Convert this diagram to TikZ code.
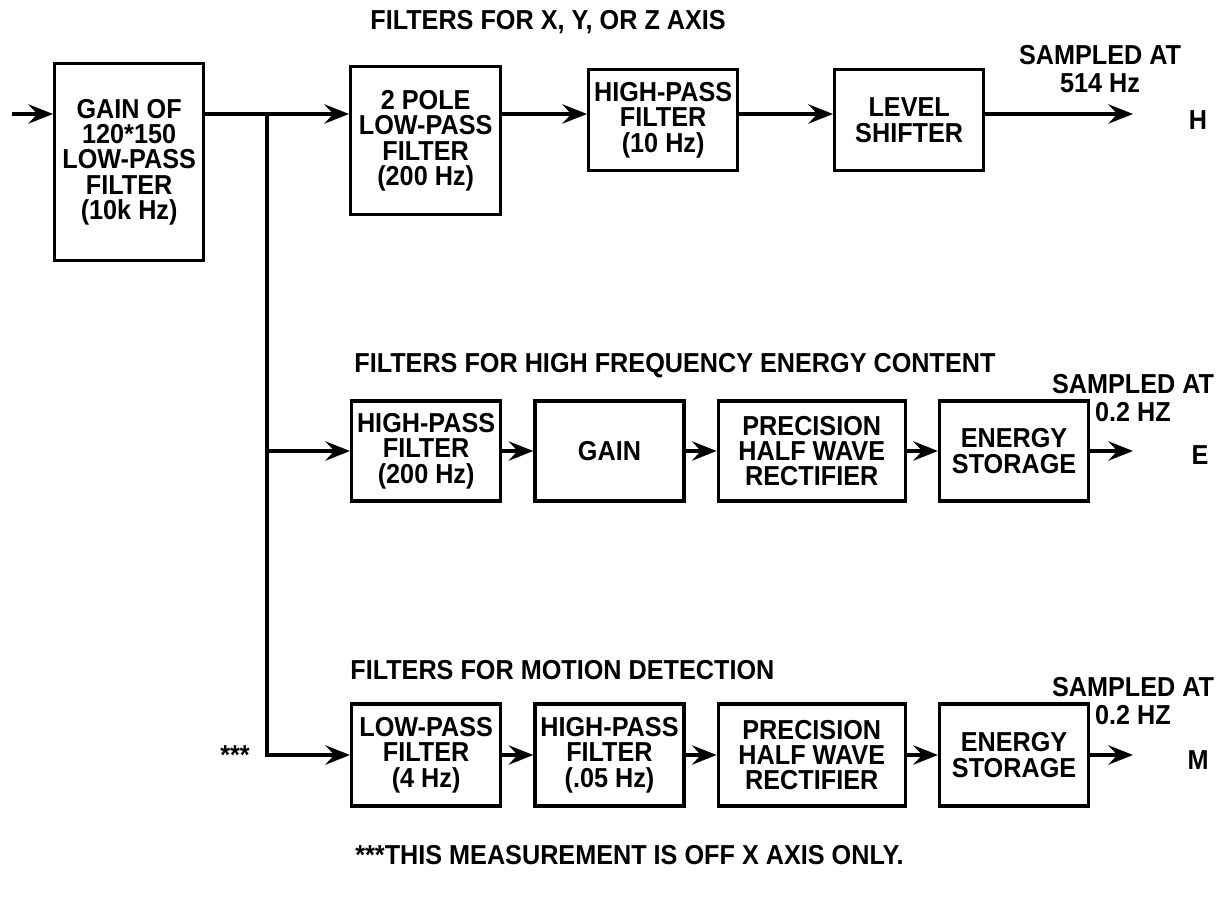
\documentclass[tikz,border=0pt]{standalone}
\usepackage{fontspec}
\setmainfont{Liberation Sans}[FakeStretch=0.92]
\usetikzlibrary{positioning, arrows.meta}

\tikzset{
  blk/.style={draw, line width=1.9pt, minimum width=2.98cm, minimum height=2cm, align=center, inner sep=1pt},
  wire/.style={line width=1.9pt},
  smp/.style={align=center, font=\bfseries\fontsize{15.6}{16}\selectfont},
  ttl/.style={anchor=west, inner sep=0pt},
}

\begin{document}
\begin{tikzpicture}[x=0.02cm, y=-0.02cm, >={Stealth[length=14pt,width=11pt,inset=5pt]}, node distance=0.62cm,
    every node/.style={font=\bfseries\fontsize{15.6}{14.4}\selectfont}]
  \useasboundingbox (0,0) rectangle (1223,915);
  % titles
  \node[ttl] (ttla) at (370,22) {FILTERS FOR X, Y, OR Z AXIS};
  \node[ttl] (ttlb) at (354,366) {FILTERS FOR HIGH FREQUENCY ENERGY CONTENT};
  \node[ttl] (ttlc) at (350,670) {FILTERS FOR MOTION DETECTION};
  \node[ttl] (note) at (355,855) {***THIS MEASUREMENT IS OFF X AXIS ONLY.};
  % axis filters
  \node[blk, minimum height=3.94cm, anchor=north west] (gain) at (53,62) {GAIN OF\\120*150\\LOW-PASS\\FILTER\\(10k Hz)};
  \node[blk, minimum width=3cm, minimum height=2.96cm, anchor=north west] (pole) at (349,65) {2 POLE\\LOW-PASS\\FILTER\\(200 Hz)};
  \node[blk, minimum height=2.02cm, anchor=north west] (hpten) at (587,68) {HIGH-PASS\\FILTER\\(10 Hz)};
  \node[blk, minimum height=2.02cm, anchor=north west] (shift) at (833,68) {LEVEL\\SHIFTER};
  % energy content
  \node[blk, anchor=west] (hpa) at (350,451) {HIGH-PASS\\FILTER\\(200 Hz)};
  \node[blk, right=of hpa] (gaina) {GAIN};
  \node[blk, minimum width=3.74cm, right=of gaina] (preca) {PRECISION\\HALF WAVE\\RECTIFIER};
  \node[blk, right=of preca] (storea) {ENERGY\\STORAGE};
  % motion detection
  \node[blk, minimum height=2.04cm, anchor=west] (lpb) at (350,755) {LOW-PASS\\FILTER\\(4 Hz)};
  \node[blk, minimum height=2.04cm, right=of lpb] (hpb) {HIGH-PASS\\FILTER\\(.05 Hz)};
  \node[blk, minimum height=2.04cm, minimum width=3.74cm, right=of hpb] (precb) {PRECISION\\HALF WAVE\\RECTIFIER};
  \node[blk, minimum height=2.04cm, right=of precb] (storeb) {ENERGY\\STORAGE};
  % outputs
  \coordinate (in) at (12,114);
  \coordinate (jn) at (267,114);
  \coordinate (outh) at (1133,114);
  \coordinate (oute) at (1133,451);
  \coordinate (outm) at (1133,755);
  \node[smp] (smph) at (1100,69) {SAMPLED AT\\514 Hz};
  \node[smp] (smpe) at (1133,398) {SAMPLED AT\\0.2 HZ};
  \node[smp] (smpm) at (1133,701) {SAMPLED AT\\0.2 HZ};
  \node (hout) at (1198,120) {H};
  \node (eout) at (1200,455) {E};
  \node (mout) at (1198,760) {M};
  \node (ast) at (235,755) {***};
  % connectors
  \draw[wire, ->] (in) -- (in -| gain.west);
  \draw[wire] (jn -| gain.east) -- (jn);
  \draw[wire, ->] (jn) -- (jn -| pole.west);
  \draw[wire, ->] (jn -| pole.east) -- (jn -| hpten.west);
  \draw[wire, ->] (jn -| hpten.east) -- (jn -| shift.west);
  \draw[wire, ->] (jn -| shift.east) -- (outh);
  \draw[wire, ->] (jn) |- (lpb);
  \draw[wire, ->] (jn |- hpa) -- (hpa);
  \draw[wire, ->] (hpa) -- (gaina);
  \draw[wire, ->] (gaina) -- (preca);
  \draw[wire, ->] (preca) -- (storea);
  \draw[wire, ->] (storea) -- (oute);
  \draw[wire, ->] (lpb) -- (hpb);
  \draw[wire, ->] (hpb) -- (precb);
  \draw[wire, ->] (precb) -- (storeb);
  \draw[wire, ->] (storeb) -- (outm);
\end{tikzpicture}
\end{document}
